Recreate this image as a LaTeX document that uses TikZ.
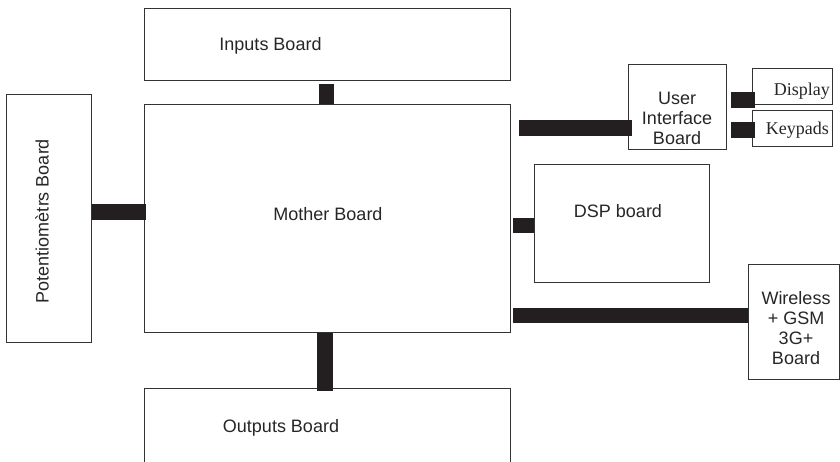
\documentclass[tikz,border=0pt]{standalone}
\usepackage{fontspec}
\setmainfont{Liberation Sans}
\newfontfamily\serifbox{Liberation Serif}
\definecolor{edgec}{HTML}{333333}
\definecolor{barc}{HTML}{231F20}
\begin{document}
\begin{tikzpicture}[x=1pt,y=-1pt,
  box/.style={draw=edgec,line width=1.1pt,inner sep=0pt,anchor=north west},
  lbl/.style={inner sep=0pt,font=\fontsize{18}{20}\selectfont,text=black!85},
  slbl/.style={inner sep=0pt,font=\serifbox\fontsize{18}{20}\selectfont,text=black!85},
  conn/.style={draw=barc,line width=16pt,line cap=butt},
  connb/.style={draw=barc,line width=15pt,line cap=butt}]
\clip (0,0) rectangle (840,461);
% boxes
\node[box,minimum width=366pt,minimum height=72pt]  (inputs)   at (144,8)   {};
\node[box,minimum width=366pt,minimum height=228pt] (mother)   at (144,104) {};
\node[box,minimum width=85pt,minimum height=248pt]  (pot)      at (6,94)    {};
\node[box,minimum width=366pt,minimum height=100pt] (outputs)  at (144,388) {};
\node[box,minimum width=98pt,minimum height=85pt]   (ui)       at (628,64)  {};
\node[box,minimum width=80pt,minimum height=36pt]   (display)  at (752,68)  {};
\node[box,minimum width=80pt,minimum height=36pt]   (keypads)  at (752,110) {};
\node[box,minimum width=175pt,minimum height=118pt] (dsp)      at (534,164) {};
\node[box,minimum width=91pt,minimum height=115pt]  (wireless) at (748,264) {};
% labels
\node[lbl,anchor=base] (tinputs)  at (270.5,50) {Inputs Board};
\node[lbl,anchor=base] (tmother)  at (328,220)  {Mother Board};
\node[lbl,anchor=base] (toutputs) at (281,432)  {Outputs Board};
\node[lbl,anchor=base] (tdsp)     at (618,217)  {DSP board};
\node[lbl,rotate=90]   (tpot)     at (42,221)   {Potentiomètrs Board};
\node[lbl,align=center] (tui)     at (677,118.5) {User\\Interface\\Board};
\node[lbl,align=center] (twl)     at (796,328.5) {Wireless\\+ GSM\\3G+\\Board};
\node[slbl,anchor=base east] (tdisp) at (830,95)  {Display};
\node[slbl,anchor=base east] (tkey)  at (829,134) {Keypads};
% connectors
\coordinate (uiin)   at ([yshift=-20.5pt]ui.west);
\coordinate (dispin) at ([yshift=-13pt]display.west);
\coordinate (keyin)  at ([yshift=-1pt]keypads.west);
\coordinate (dspin)  at ([yshift=-1.5pt]dsp.west);
\coordinate (wlin)   at ([yshift=7pt]wireless.west);
\draw[connb,shorten <=3pt] ([xshift=-1.5pt]inputs.south) -- ([xshift=-1.5pt]mother.north);
\draw[conn,shorten >=-2pt] ([yshift=7pt]pot.east) -- ([yshift=7pt]mother.west);
\draw[conn,shorten >=-3pt] ([xshift=-3pt]mother.south) -- ([xshift=-3pt]outputs.north);
\draw[conn,shorten <=8pt,shorten >=-4pt] (uiin -| mother.east) -- (uiin);
\draw[conn,shorten <=4pt,shorten >=-3pt] (dispin -| ui.east) -- (dispin);
\draw[conn,shorten <=4pt,shorten >=-3pt] (keyin -| ui.east) -- (keyin);
\draw[connb,shorten <=2pt] (dspin -| mother.east) -- (dspin);
\draw[connb,shorten <=2pt] (wlin -| mother.east) -- (wlin);
\end{tikzpicture}
\end{document}
